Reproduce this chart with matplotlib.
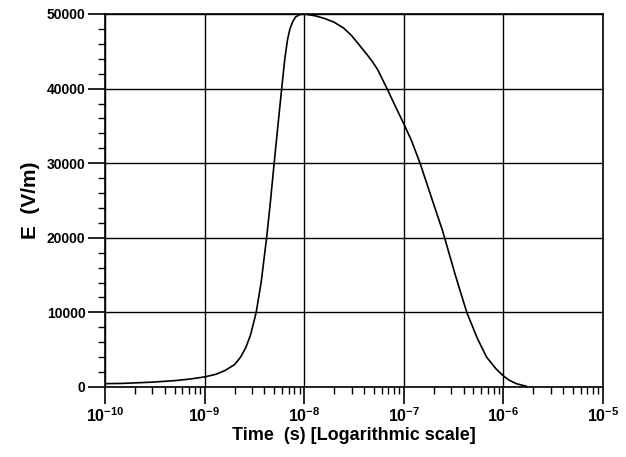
import matplotlib
matplotlib.use("Agg")
import matplotlib.pyplot as plt
from matplotlib.ticker import FixedLocator, LogLocator, NullFormatter

plt.rcParams['font.family'] = ['Liberation Sans', 'DejaVu Sans']
plt.rcParams['font.weight'] = 'bold'
plt.rcParams['mathtext.fontset'] = 'custom'
plt.rcParams['mathtext.rm'] = 'Liberation Sans:bold'
plt.rcParams['mathtext.it'] = 'Liberation Sans:bold'
plt.rcParams['mathtext.bf'] = 'Liberation Sans:bold'

# pulse: time (s) and field (V/m)
time_s = [1e-10, 1.5e-10, 2e-10, 3e-10, 5e-10, 7e-10, 1e-9, 1.3e-9, 1.6e-9, 2e-9,
          2.3e-9, 2.6e-9, 2.9e-9, 3.3e-9, 3.7e-9, 4.2e-9, 4.6e-9, 5.0e-9, 5.5e-9,
          5.9e-9, 6.4e-9, 6.8e-9, 7.2e-9, 7.7e-9, 8.2e-9, 9e-9, 1e-8, 1.3e-8,
          1.6e-8, 2e-8, 2.5e-8, 3e-8, 3.5e-8, 4.2e-8, 4.8e-8, 5.5e-8, 6.8e-8,
          8e-8, 1e-7, 1.2e-7, 1.46e-7, 2e-7, 2.45e-7, 3.3e-7, 4.3e-7, 5.5e-7,
          6.8e-7, 8.5e-7, 1e-6, 1.15e-6, 1.35e-6, 1.7e-6]
field = [450, 480, 550, 650, 850, 1050, 1350, 1700, 2200, 3000,
         4000, 5300, 7000, 10000, 14000, 20000, 25000, 30000, 35500,
         39500, 44000, 46500, 48000, 49000, 49600, 49900, 50000, 49750,
         49400, 48900, 48100, 47100, 46000, 44700, 43700, 42500, 40000,
         38000, 35300, 33000, 30000, 24500, 21000, 15000, 10000, 6500,
         4000, 2400, 1500, 900, 450, 100]

x_ticks = [1e-10, 1e-9, 1e-8, 1e-7, 1e-6, 1e-5]
x_labels = [r'$\mathrm{10^{-10}}$', r'$\mathrm{10^{-9}}$', r'$\mathrm{10^{-8}}$',
            r'$\mathrm{10^{-7}}$', r'$\mathrm{10^{-6}}$', r'$\mathrm{10^{-5}}$']
y_ticks = [0, 10000, 20000, 30000, 40000, 50000]

fig = plt.figure(figsize=(6.26, 4.57), dpi=100)
ax = fig.add_axes([0.1677, 0.1532, 0.7953, 0.8162])

ax.semilogx(time_s, field, color='black', linewidth=1.2)
ax.set_xlim(1e-10, 1e-5)
ax.set_ylim(0, 50000)

ax.set_xticks(x_ticks)
ax.set_xticklabels(x_labels, fontsize=11.5)
ax.xaxis.set_minor_locator(LogLocator(base=10, subs=range(2, 10)))
ax.xaxis.set_minor_formatter(NullFormatter())
ax.set_yticks(y_ticks)
ax.set_yticklabels([str(v) for v in y_ticks], fontsize=10)
ax.yaxis.set_minor_locator(FixedLocator(range(0, 50001, 2000)))

ax.tick_params(axis='both', which='major', direction='out', length=12, width=1.2, pad=2)
ax.tick_params(axis='both', which='minor', direction='out', length=5, width=1)
ax.grid(True, which='major', color='black', linewidth=1)
for s in ax.spines.values():
    s.set_linewidth(1.2)

ax.set_xlabel('Time  (s) [Logarithmic scale]', fontsize=13, fontweight='bold', labelpad=1)
ax.set_ylabel('E  (V/m)', fontsize=15, fontweight='bold', labelpad=5)

fig.savefig('out.png', dpi=100)
